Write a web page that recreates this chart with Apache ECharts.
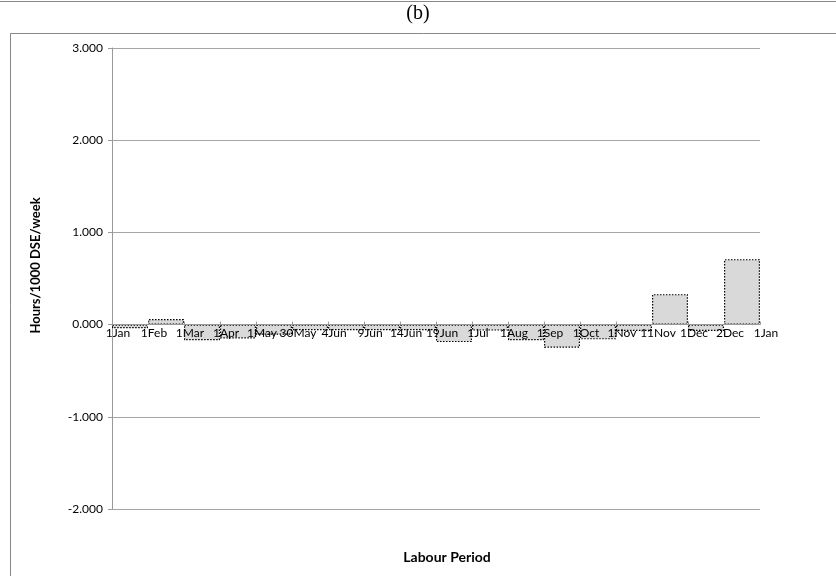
<!DOCTYPE html>
<html>
<head>
<meta charset="utf-8">
<script src="https://cdn.jsdelivr.net/npm/echarts@6/dist/echarts.min.js"></script>
<style>
  html, body { margin: 0; padding: 0; background: #fff; }
  #main { width: 836px; height: 576px; }
</style>
</head>
<body>
<div id="main"></div>
<script>
// boundary labels under the axis (19), bars sit between them (18)
var dateLabels = ['1Jan', '1Feb', '1Mar', '1Apr', '1May', '30May', '4Jun', '9Jun', '14Jun',
  '19Jun', '1Jul', '1Aug', '1Sep', '1Oct', '1Nov', '11Nov', '1Dec', '2Dec', '1Jan'];
var periods = ['P1', 'P2', 'P3', 'P4', 'P5', 'P6', 'P7', 'P8', 'P9',
  'P10', 'P11', 'P12', 'P13', 'P14', 'P15', 'P16', 'P17', 'P18'];
var hours = [-0.04, 0.06, -0.17, -0.15, -0.11, -0.06, -0.06, -0.06, -0.06,
  -0.19, -0.065, -0.17, -0.25, -0.16, -0.07, 0.33, -0.07, 0.71];
var yTicks = [-2, -1, 0, 1, 2, 3];

var chart = echarts.init(document.getElementById('main'), null, { renderer: 'canvas' });

var option = {
  backgroundColor: '#fff',
  animation: false,
  title: {
    text: '(b)',
    left: 'center',
    top: -1,
    textStyle: { fontFamily: 'Liberation Serif', fontSize: 20, fontWeight: 'normal', color: '#000' }
  },
  graphic: [
    { type: 'line', shape: { x1: 0, y1: 1.5, x2: 836, y2: 1.5 }, style: { stroke: '#888', lineWidth: 1 } },
    { type: 'rect', shape: { x: 10.5, y: 33.5, width: 830, height: 560 }, style: { fill: null, stroke: '#888', lineWidth: 1 } },
    {
      type: 'text', x: 447, y: 557,
      style: {
        text: 'Labour Period', textAlign: 'center', textVerticalAlign: 'middle',
        font: 'bold 14px Lato', fill: '#000'
      }
    }
  ],
  grid: { left: 112, right: 76, top: 48, bottom: 67, containLabel: false, outerBoundsMode: 'none' },
  xAxis: [{
    // labelled axis at the bar boundaries, moved up to zero below
    type: 'category',
    data: dateLabels,
    boundaryGap: false,
    position: 'bottom',
    offset: 0,
    z: 5,
    axisLine: { onZero: false, lineStyle: { color: '#999' } },
    axisTick: { show: true, length: 3, inside: true, lineStyle: { color: '#999' } },
    axisLabel: {
      interval: 0, margin: 3, fontSize: 12, color: '#000',
      fontFamily: 'Lato', padding: [0, 0, 0, 12]
    }
  }, {
    // hidden axis carrying the bars between boundaries
    type: 'category',
    data: periods,
    boundaryGap: true,
    show: false
  }],
  yAxis: {
    type: 'value',
    min: yTicks[0],
    max: yTicks[yTicks.length - 1],
    interval: 1,
    axisLine: { show: true, lineStyle: { color: '#999' } },
    axisTick: { show: true, length: 4, lineStyle: { color: '#999' } },
    axisLabel: {
      margin: 9, fontSize: 12, color: '#000', fontFamily: 'Lato',
      formatter: function (v) { return v.toFixed(3); }
    },
    splitLine: { lineStyle: { color: '#a6a6a6' } },
    name: 'Hours/1000 DSE/week',
    nameLocation: 'middle',
    nameGap: 70,
    nameTextStyle: { fontFamily: 'Lato', fontWeight: 'bold', fontSize: 13, color: '#000', padding: [0, 0, 0, 26] }
  },
  series: [{
    type: 'bar',
    xAxisIndex: 1,
    data: hours,
    barWidth: '100%',
    z: 2,
    itemStyle: {
      color: '#d9d9d9',
      borderColor: '#000',
      borderWidth: 1.2,
      borderType: [1.5, 1.5]
    }
  }]
};

chart.setOption(option);

// put the date axis on the zero line
var zeroY = chart.convertToPixel({ yAxisIndex: 0 }, 0);
var bottomY = chart.convertToPixel({ yAxisIndex: 0 }, yTicks[0]);
chart.setOption({ xAxis: [{ offset: zeroY - bottomY }] });
</script>
</body>
</html>
